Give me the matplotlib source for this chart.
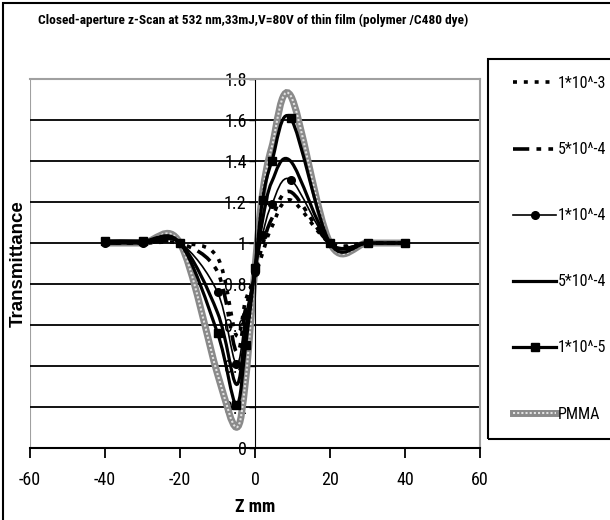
import numpy as np
import matplotlib
matplotlib.use("Agg")
import matplotlib.pyplot as plt
from matplotlib.path import Path
from matplotlib.patches import PathPatch, Rectangle
from matplotlib.lines import Line2D

plt.rcParams['axes.unicode_minus'] = False
NARROW = ['Roboto Condensed', 'Liberation Sans', 'DejaVu Sans']
WIDE = ['Liberation Sans', 'DejaVu Sans']

# z positions (mm) of the measured points
z = [-40, -30, -20, -10, -5, -2.5, 0, 2, 4.5, 9.5, 20, 30, 40]

# transmittance
t_1e3 = [1.0, 1.0, 1.0, 0.93, 0.55, 0.72, 0.84, 0.95, 1.08, 1.21, 1.0, 1.0, 1.0]
t_5e4a = [1.0, 1.0, 1.0, 0.86, 0.47, 0.68, 0.85, 0.99, 1.12, 1.25, 1.0, 1.0, 1.0]
t_1e4 = [1.0, 1.0, 1.0, 0.76, 0.41, 0.65, 0.86, 1.04, 1.19, 1.31, 1.0, 1.0, 1.0]
t_5e4b = [1.0, 1.0, 1.0, 0.66, 0.31, 0.58, 0.87, 1.11, 1.30, 1.40, 1.0, 1.0, 1.0]
t_1e5 = [1.01, 1.01, 1.0, 0.56, 0.21, 0.50, 0.88, 1.21, 1.40, 1.61, 1.0, 1.0, 1.0]
t_pmma = [1.0, 1.0, 1.0, 0.36, 0.10, 0.33, 0.88, 1.24, 1.47, 1.72, 1.0, 1.0, 1.0]

labels = ['1*10^-3', '5*10^-4', '1*10^-4', '5*10^-4', '1*10^-5', 'PMMA']

title = 'Closed-aperture z-Scan at 532 nm,33mJ,V=80V of thin film (polymer /C480 dye)'


def smooth_path(x, y):
    # excel style smoothed line: bezier segments through every point
    p = np.column_stack([x, y]).astype(float)
    n = len(p)
    verts = [p[0]]
    codes = [Path.MOVETO]
    for i in range(n - 1):
        p0 = p[i - 1] if i > 0 else p[i]
        p3 = p[i + 2] if i + 2 < n else p[i + 1]
        c1 = p[i] + (p[i + 1] - p0) / 6.0
        c2 = p[i + 1] - (p3 - p[i]) / 6.0
        verts += [c1, c2, p[i + 1]]
        codes += [Path.CURVE4] * 3
    return Path(verts, codes)


def draw(ax, y, **kw):
    patch = PathPatch(smooth_path(z, y), fill=False, **kw)
    ax.add_patch(patch)


fig = plt.figure(figsize=(6.1, 5.2), dpi=100)
ax = fig.add_axes([30 / 610, 72.3 / 520, 450 / 610, 368.4 / 520])

ax.set_xlim(-60, 60)
ax.set_ylim(0, 1.8)

for g in np.arange(0.2, 1.7, 0.2):
    ax.axhline(g, color='black', lw=1.3, zorder=1)

# series
draw(ax, t_pmma, edgecolor='#8a8a8a', lw=5, zorder=2)
draw(ax, t_pmma, edgecolor='#e2e2e2', lw=1.5, linestyle=(0, (1, 1)), zorder=2.1)
draw(ax, t_1e3, edgecolor='black', lw=2.6, linestyle=(0, (1.1, 1.9)), zorder=3)
draw(ax, t_5e4a, edgecolor='black', lw=2.6, linestyle=(0, (4.5, 2, 1.3, 2, 1.3, 2)), zorder=3)
draw(ax, t_1e4, edgecolor='black', lw=1.2, zorder=3)
draw(ax, t_5e4b, edgecolor='black', lw=2.3, zorder=3)
draw(ax, t_1e5, edgecolor='black', lw=2.3, zorder=3)
ax.plot(z, t_1e4, 'o', color='black', ms=5.5, zorder=4)
ax.plot(z, t_1e5, 's', color='black', ms=5.5, zorder=4)

# axes
ax.spines['left'].set_position(('data', 0))
ax.spines['left'].set_color('black')
ax.spines['bottom'].set_linewidth(1.5)
for s in ['top', 'right']:
    ax.spines[s].set_color('#a0a0a0')
    ax.spines[s].set_linewidth(1.5)
ax.axvline(-60, color='#a0a0a0', lw=1.5, zorder=0)

ax.set_xticks(np.arange(-60, 61, 20))
ax.set_yticks(np.round(np.arange(0, 1.81, 0.2), 1))
ax.set_yticklabels(['0', '0.2', '0.4', '0.6', '0.8', '1', '1.2', '1.4', '1.6', '1.8'])
ax.tick_params(axis='x', direction='out', length=7, width=1.3, pad=10)
ax.tick_params(axis='y', direction='out', length=4, width=1, pad=2)
for lab in ax.get_xticklabels() + ax.get_yticklabels():
    lab.set_family(NARROW)
    lab.set_fontsize(13)

ax.set_xlabel('Z mm', family=NARROW, fontweight='bold', fontsize=13, labelpad=6)
fig.text(18 / 610, 1 - 264 / 520, 'Transmittance', rotation=90, ha='center', va='center',
         family=WIDE, fontweight='bold', fontsize=13.5)
fig.text(38 / 610, 1 - 20 / 520, title, ha='left', va='center',
         family=NARROW, fontweight='bold', fontsize=9.6)

# legend
handles = [
    Line2D([], [], color='black', lw=2.6, linestyle=(0, (1.1, 1.9))),
    Line2D([], [], color='black', lw=2.6, linestyle=(0, (4.5, 2, 1.3, 2, 1.3, 2))),
    Line2D([], [], color='black', lw=1.2, marker='o', ms=5.5),
    Line2D([], [], color='black', lw=2.3),
    Line2D([], [], color='black', lw=2.3, marker='s', ms=5.5),
    (Line2D([], [], color='#8a8a8a', lw=5),
     Line2D([], [], color='#e2e2e2', lw=1.5, linestyle=(0, (1, 1)))),
]
fig.patches.append(Rectangle((488 / 610, 1 - 439 / 520), 0.3, 380 / 520,
                             transform=fig.transFigure, fill=False, edgecolor='black', lw=1.5))
leg = fig.legend(handles, labels, loc='upper left', bbox_to_anchor=(505 / 610, 1 - 68 / 520),
                 frameon=False, prop={'family': NARROW, 'size': 11.5},
                 handlelength=2.7, handletextpad=0.1, labelspacing=3.2, borderpad=0)

# outer chart border
fig.patches.append(Rectangle((3 / 610, -0.1), 1.2, 1.1 - 3 / 520,
                             transform=fig.transFigure, fill=False, edgecolor='black', lw=1.5))

fig.savefig('out.png', dpi=100)
